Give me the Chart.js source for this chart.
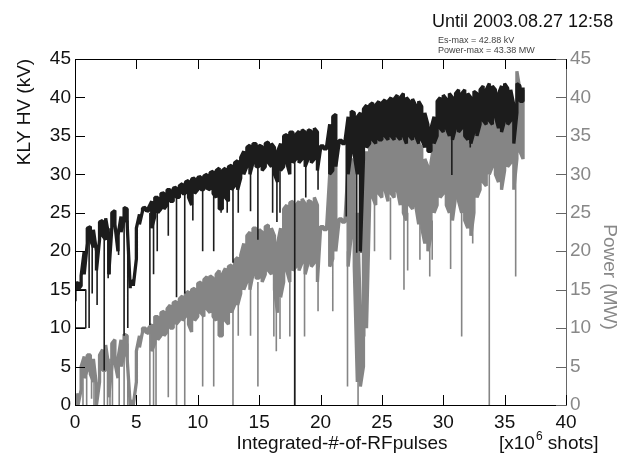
<!DOCTYPE html>
<html>
<head>
<meta charset="utf-8">
<script src="https://cdn.jsdelivr.net/npm/chart.js@4.4.1/dist/chart.umd.min.js"></script>
<style>
  html, body { margin: 0; padding: 0; background: #fff; }
  canvas { display: block; }
</style>
</head>
<body>
<canvas id="kly-chart" width="628" height="454"></canvas>
<script>
// sample positions of the dense trace (x10^6 shots)
const bandX = [0,0.25,0.5,0.75,1,1.25,1.5,1.75,2,2.25,2.5,2.75,3,3.25,3.5,3.75,4,4.25,4.5,4.75,
  5,5.25,5.5,5.75,6,6.25,6.5,6.75,7,7.25,7.5,7.75,8,8.25,8.5,8.75,9,9.25,9.5,9.75,
  10,10.25,10.5,10.75,11,11.25,11.5,11.75,12,12.25,12.5,12.75,13,13.25,13.5,13.75,14,14.25,14.5,14.75,
  15,15.25,15.5,15.75,16,16.25,16.5,16.75,17,17.25,17.5,17.75,18,18.25,18.5,18.75,19,19.25,19.5,19.75,
  20,20.25,20.5,20.75,21,21.25,21.5,21.75,22,22.25,22.5,22.75,23,23.25,23.5,23.75,24,24.25,24.5,24.75,
  25,25.25,25.5,25.75,26,26.25,26.5,26.75,27,27.25,27.5,27.75,28,28.25,28.5,28.75,29,29.25,29.5,29.75,
  30,30.25,30.5,30.75,31,31.25,31.5,31.75,32,32.25,32.5,32.75,33,33.25,33.5,33.75,34,34.25,34.5,34.75,
  35,35.25,35.5,35.75,36,36.25,36.5];

// KLY HV (kV): low / high of the trace around each sample
const hvLo = [13.5,15,15.5,17,21,21.5,20.5,17.5,21.5,22,21.5,17,23,23.5,20,22.5,24,23.5,15.2,15.5,
  19,23.5,25.2,25.3,25.2,23,24.5,25,25.5,25.5,26,26.5,26.5,27,27,27.5,27.5,27,26,27.5,
  28,28,28,28.2,28,27.5,27,25.5,25.5,27,26.5,28,28.5,28,29.5,30,31,30,31.5,31,
  31,30.5,31,31.5,31,30,29,30.5,31,31.5,30,31.5,32,31.5,32,31,32,31.5,32,30.5,
  33.3,33.3,33.3,30,30.5,31,33.9,34,34,30,33,32.5,30,20,32,33.5,34,34.5,34,34.5,
  34.5,35,34.5,35,34.5,35,34.5,35,34,35,34.5,35,34,34.5,33.5,33,33,34,35,36,
  35.5,36,35,34.5,36,35.5,36,35,34.5,34,35.5,35,36.5,37,36.5,37,36.5,37.5,36,35.5,
  37,36.5,37,34,38,39.5,39.5];
const hvHi = [15.5,16,16.8,20,23,23.2,22.8,20,23.8,24,24.3,22,25,25.3,22,24.5,25.7,25.5,15.8,16.2,
  23,24.8,25.6,25.7,25.7,26.5,27,27,27.5,27.6,28,28,28.2,28.3,28.5,28.8,29,29.2,29.4,29.5,
  29.6,29.7,29.8,30,30.2,30.4,30.5,30.8,30.5,30.8,31,31.2,31.5,31.8,32.2,33,33.5,33.8,34,34,
  33.8,33.6,34,34.2,34,33.5,33,34,35,35.2,35.5,35.5,35.2,35.6,35.8,35.5,35.8,35.6,36,35.5,
  33.7,33.7,33.7,36.5,37.5,37.8,34.4,34.4,34.4,37.5,38.2,38,37.5,38,38.5,39,39,39.3,39,39.5,
  39.3,39.7,39.5,40,39.8,40.3,40,40.5,40,39.5,39.8,39,39.5,38.8,38,36.5,36,37.5,39.5,40,
  40.3,39.8,40.5,40,40.5,41,40.5,41,40.5,40,40.8,40.5,41,41.5,41,41.8,41.5,41,40.5,41.5,
  41.8,41.2,41,39,41.8,41.5,41.3];

// Power (MW): low / high of the trace around each sample
const pwLo = [0,0,2,3.5,4.5,4,3,0,3,4.5,4.5,1,5,5.5,3.5,5,6.5,6,0,0,
  3,7.5,9.5,9.5,9.3,7,8,8.5,9,9,9.5,10,10,10.5,11,11,11.5,10.5,9.5,11,
  11.5,12,11.5,12.5,12,11.5,11,9,9,11,10.5,12,13,13,14.5,15,16,15,17,16.5,
  16.5,16,17,17.5,17,15,12,14,16,17.5,16,17.5,18,17.5,18.5,17,18.5,18,18.5,16,
  22.8,22.8,22.8,18,19,20,23.8,23.8,23.8,18,22,18,3,2.4,5,10,26,27,26,27.5,
  27,28,26.5,27.5,27,28,26,25,24,26,25.5,26,23.5,23,21,20,22,25,26,27,
  27.5,26,25,24,27,26.5,25,24,23,22,25,27,28,29,28.5,30,31,30,29,28,
  30.5,31,31.5,28,32,33,32];
const pwHi = [0.3,1.5,5,6.3,6.5,6.5,6,2.5,6.5,7.2,7.8,5,8,8.5,6,8.5,9.2,9,0.4,0.5,
  7,9,10,10,10,10.5,11.5,11.5,12,12.2,12.5,13,13.3,13.5,13.8,14.2,14.5,14.8,15,15.2,
  15.8,16,16.3,16.7,16.8,16.5,17,17.5,17,17.8,18,18.2,18.8,19.2,19.5,21,22,22.5,23,23,
  22.8,22.5,23.2,23.4,23,22,21,23,25.5,26,26.3,26.5,26,26.5,26.8,26.2,26.6,26.4,27,26,
  23.2,23.2,23.2,30,31,31.5,24.2,24.2,24.2,31,32,31.5,25,12,26,33,34.5,35,35.5,35.5,
  35.8,36,35.5,36,35.5,36.2,36,36.5,35.5,36,35,34.5,34,33.5,32,31,31.5,34,36,36.5,
  37,36.5,36.8,35.5,36.5,37,36,36.5,35,34.5,36.5,37,37.5,38,37.5,38.5,38.5,38,37.5,38.2,
  38.8,38.5,38,36,43.4,41,41];

// sharp drop-outs (x, bottom, top)
const hvDipX  = [1.15,1.4,1.8,2.38,2.7,2.85,3.55,4.0,4.3,6.1,6.4,6.7,7.6,8.27,8.94,9.6,10.4,11.3,11.9,12.4,12.87,13.3,14.3,14.9,16.1,16.45,16.7,17.9,18.8,19.8,22.1,22.95,23.3,30.7,32.2];
const hvDipLo = [10,14.5,13,4.5,16.5,17,19.5,9,10,10.4,17,20,22,14,14.5,24,20,20,25,25,18.5,25,25.2,21.5,25,23.8,25,0,27,28,24.5,19.8,19.8,29.9,33.5];
const hvDipHi = [22,22,19,23,23,23,23,24,24,25,25,26,27,27,28,28,28.5,28.5,29,29,29,30,32,32,32,31,31,33,33,33,34.2,36,33,36,37];

const pwDipX  = [0.65,0.95,1.35,1.55,2.38,2.65,2.85,3.05,3.6,4.0,4.3,6.1,6.4,6.6,7.6,8.27,8.94,10.4,11.3,11.7,12.87,13.3,14.3,14.9,16.2,16.4,16.7,17.5,17.9,18.7,19.8,21.0,22.2,23.06,23.6,24.4,25.7,26.8,27.1,28.1,28.9,29.1,30.6,31.5,32.4,33.75,35.9];
const pwDipLo = [0,0,0.8,0,0,0,0,0,0,0,0,0,0,0,1,0,0,2.4,2.4,9,0,9,9,2.4,8.9,7,8.6,8.9,0,8.9,12.2,12.2,2.4,0,8.9,20,18.9,15,17.5,18.9,16.7,18.9,17.7,8.9,21,0,16.7];
const pwDipHi = [5,6,5,4,6,6,6,7,6,7,8,9.5,10,10,11,12,13,12,12,13,13,14,16,16,17,15,14,17,18,18,17,19,20,5,20,27,27,27,25,25,22,24,26,25,25,30,30];

// reset box at the very start of the HV trace
const boxX = [0,0.88,0.88,0];
const boxY = [15,15,10,10];

const FONT = '"Liberation Sans", Arial, Helvetica, sans-serif';
const BLACK = "#1c1c1c";
const GREY = "#858585";

// dense trace: run up and down between low and high at each sample
function zigzag(xs, lo, hi) {
  const pts = [];
  xs.forEach((x, i) => {
    if (i % 2 === 0) pts.push({ x: x, y: lo[i] }, { x: x, y: hi[i] });
    else pts.push({ x: x, y: hi[i] }, { x: x, y: lo[i] });
  });
  return pts;
}

// single vertical drop-outs, separated by gaps
function spikes(xs, lo, hi) {
  const pts = [];
  xs.forEach((x, i) => {
    pts.push({ x: x, y: hi[i] }, { x: x, y: lo[i] }, { x: x, y: null });
  });
  return pts;
}

const framePlugin = {
  id: "frame",
  afterDraw(chart) {
    const { ctx, chartArea: a, scales } = chart;
    ctx.save();
    ctx.lineWidth = 1;
    ctx.strokeStyle = "#000";
    ctx.beginPath();
    ctx.moveTo(a.right, a.top + 0.5);
    ctx.lineTo(a.left + 0.5, a.top + 0.5);
    ctx.lineTo(a.left + 0.5, a.bottom + 0.5);
    ctx.lineTo(a.right, a.bottom + 0.5);
    ctx.stroke();
    ctx.strokeStyle = "#666";
    ctx.beginPath();
    ctx.moveTo(a.right + 0.5, a.top);
    ctx.lineTo(a.right + 0.5, a.bottom + 1);
    ctx.stroke();

    // inward ticks
    const len = 10;
    ctx.strokeStyle = "#000";
    ctx.beginPath();
    scales.x.ticks.forEach(t => {
      const px = Math.round(scales.x.getPixelForValue(t.value)) + 0.5;
      ctx.moveTo(px, a.bottom);
      ctx.lineTo(px, a.bottom - len);
      ctx.moveTo(px, a.top);
      ctx.lineTo(px, a.top + len);
    });
    scales.y.ticks.forEach(t => {
      const py = Math.round(scales.y.getPixelForValue(t.value)) + 0.5;
      ctx.moveTo(a.left, py);
      ctx.lineTo(a.left + len, py);
    });
    ctx.stroke();
    ctx.strokeStyle = "#666";
    ctx.beginPath();
    scales.y2.ticks.forEach(t => {
      const py = Math.round(scales.y2.getPixelForValue(t.value)) + 0.5;
      ctx.moveTo(a.right, py);
      ctx.lineTo(a.right - len, py);
    });
    ctx.stroke();

    // texts
    ctx.fillStyle = "#111";
    ctx.textBaseline = "alphabetic";
    ctx.textAlign = "left";
    ctx.font = "18px " + FONT;
    ctx.fillText("Until 2003.08.27 12:58", 432, 27);
    ctx.fillStyle = "#444";
    ctx.font = "9px " + FONT;
    ctx.fillText("Es-max = 42.88 kV", 438, 43);
    ctx.fillText("Power-max = 43.38 MW", 438, 53);

    ctx.fillStyle = "#111";
    ctx.font = "19px " + FONT;
    ctx.textAlign = "center";
    ctx.fillText("Integrated-#-of-RFpulses", 342, 449);
    ctx.textAlign = "left";
    ctx.fillText("[x10", 499, 449);
    const w = ctx.measureText("[x10").width;
    ctx.font = "12px " + FONT;
    ctx.fillText("6", 499 + w + 1, 440);
    const w6 = ctx.measureText("6").width;
    ctx.font = "19px " + FONT;
    ctx.fillText(" shots]", 499 + w + w6 + 1, 449);

    ctx.textAlign = "center";
    ctx.textBaseline = "middle";
    ctx.save();
    ctx.translate(25, 112);
    ctx.rotate(-Math.PI / 2);
    ctx.fillText("KLY HV (kV)", 0, 0);
    ctx.restore();
    ctx.save();
    ctx.fillStyle = "#888";
    ctx.translate(609, 277);
    ctx.rotate(Math.PI / 2);
    ctx.fillText("Power (MW)", 0, 0);
    ctx.restore();
    ctx.restore();
  }
};

const lineStyle = { showLine: true, pointRadius: 0, fill: false, tension: 0, spanGaps: false, borderJoinStyle: "bevel" };

new Chart(document.getElementById("kly-chart"), {
  type: "scatter",
  data: {
    datasets: [
      { ...lineStyle, label: "HV", data: zigzag(bandX, hvLo, hvHi), borderColor: BLACK, borderWidth: 3.3, yAxisID: "y", order: 1 },
      { ...lineStyle, label: "HV drops", data: spikes(hvDipX, hvDipLo, hvDipHi), borderColor: BLACK, borderWidth: 1.6, yAxisID: "y", order: 1 },
      { ...lineStyle, label: "HV reset", data: boxX.map((x, i) => ({ x: x, y: boxY[i] })), borderColor: BLACK, borderWidth: 1.5, yAxisID: "y", order: 1 },
      { ...lineStyle, label: "Power", data: zigzag(bandX, pwLo, pwHi), borderColor: GREY, borderWidth: 3.3, yAxisID: "y2", order: 2 },
      { ...lineStyle, label: "Power drops", data: spikes(pwDipX, pwDipLo, pwDipHi), borderColor: GREY, borderWidth: 1.6, yAxisID: "y2", order: 2 }
    ]
  },
  options: {
    responsive: false,
    animation: false,
    layout: { padding: { top: 59, left: 0, right: 0, bottom: 0 } },
    plugins: { legend: { display: false }, tooltip: { enabled: false } },
    scales: {
      x: {
        type: "linear", min: 0, max: 40,
        grid: { display: false, drawTicks: false }, border: { display: false },
        ticks: { stepSize: 5, padding: 6, color: "#111", font: { family: FONT, size: 19 } },
        afterFit: s => { s.height = 49; }
      },
      y: {
        position: "left", min: 0, max: 45,
        grid: { display: false, drawTicks: false }, border: { display: false },
        ticks: { stepSize: 5, padding: 4, color: "#111", font: { family: FONT, size: 19 } },
        afterFit: s => { s.width = 75; }
      },
      y2: {
        position: "right", min: 0, max: 45,
        grid: { display: false, drawTicks: false }, border: { display: false },
        ticks: { stepSize: 5, padding: 4, color: "#888", font: { family: FONT, size: 19 } },
        afterFit: s => { s.width = 62; }
      }
    }
  },
  plugins: [framePlugin]
});
</script>
</body>
</html>
